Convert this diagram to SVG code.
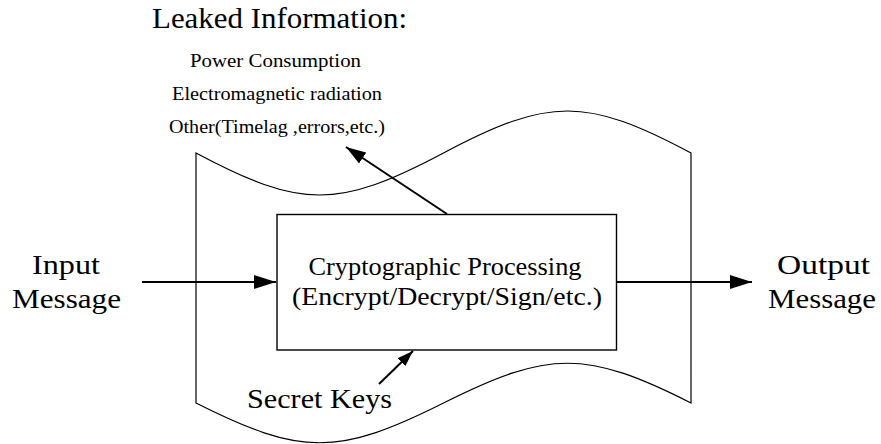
<svg xmlns="http://www.w3.org/2000/svg" width="881" height="444" viewBox="0 0 881 444">
  <style>
    text { font-family: "Liberation Serif", "Times New Roman", serif; fill: #000; }
    .big { font-size: 27px; }
    .mid { font-size: 25px; }
    .title { font-size: 30px; }
    .small { font-size: 19px; }
    .outline { fill: none; stroke: #000; stroke-width: 1.2; }
    .box { fill: #fff; stroke: #000; stroke-width: 1.4; }
    .conn { fill: none; stroke: #000; stroke-width: 2; }
  </style>
  <defs>
    <marker id="ahBig" markerUnits="userSpaceOnUse" markerWidth="22" markerHeight="14" refX="22" refY="7" orient="auto">
      <path d="M0,0 L22,7 L0,14 z" fill="#000"/>
    </marker>
    <marker id="ahMid" markerUnits="userSpaceOnUse" markerWidth="20" markerHeight="13" refX="20" refY="6.5" orient="auto">
      <path d="M0,0 L20,6.5 L0,13 z" fill="#000"/>
    </marker>
    <marker id="ahSmall" markerUnits="userSpaceOnUse" markerWidth="16" markerHeight="11" refX="16" refY="5.5" orient="auto">
      <path d="M0,0 L16,5.5 L0,11 z" fill="#000"/>
    </marker>
  </defs>
  <rect width="881" height="444" fill="#fff"/>

  <g id="device-boundary">
    <path class="outline" d="M196,403 L196,153 C301,209 338,209 443.5,153 C549,97 586,97 691,153 L691,403 C586,350 549,350 443.5,403 C338,456 301,456 196,403 Z"/>
  </g>

  <g id="leaked-info">
    <text class="title" x="152" y="28" textLength="255" lengthAdjust="spacingAndGlyphs">Leaked Information:</text>
    <text class="small" x="190" y="67" textLength="171" lengthAdjust="spacingAndGlyphs">Power Consumption</text>
    <text class="small" x="172" y="100" textLength="210" lengthAdjust="spacingAndGlyphs">Electromagnetic radiation</text>
    <text class="small" x="169" y="133" textLength="216" lengthAdjust="spacingAndGlyphs">Other(Timelag ,errors,etc.)</text>
  </g>

  <g id="input-message">
    <text class="big" x="32" y="274" textLength="68" lengthAdjust="spacingAndGlyphs">Input</text>
    <text class="big" x="12" y="308" textLength="109" lengthAdjust="spacingAndGlyphs">Message</text>
  </g>

  <g id="crypto-processing">
    <rect class="box" x="277" y="214.5" width="339.5" height="135.5"/>
    <text class="mid" x="308.5" y="275" textLength="273" lengthAdjust="spacingAndGlyphs">Cryptographic Processing</text>
    <text class="mid" x="292" y="305" textLength="310" lengthAdjust="spacingAndGlyphs">(Encrypt/Decrypt/Sign/etc.)</text>
  </g>

  <g id="output-message">
    <text class="big" x="777" y="274" textLength="93" lengthAdjust="spacingAndGlyphs">Output</text>
    <text class="big" x="768" y="308" textLength="108" lengthAdjust="spacingAndGlyphs">Message</text>
  </g>

  <g id="secret-keys">
    <text class="big" x="247" y="408" textLength="145" lengthAdjust="spacingAndGlyphs">Secret Keys</text>
  </g>

  <g id="connectors">
    <line class="conn" x1="142" y1="282" x2="276" y2="282" marker-end="url(#ahBig)"/>
    <line class="conn" x1="616.5" y1="282" x2="752" y2="282" marker-end="url(#ahBig)"/>
    <line class="conn" x1="447" y1="214" x2="346" y2="147" marker-end="url(#ahMid)"/>
    <line class="conn" x1="379" y1="384" x2="413" y2="351" marker-end="url(#ahSmall)"/>
  </g>
</svg>
